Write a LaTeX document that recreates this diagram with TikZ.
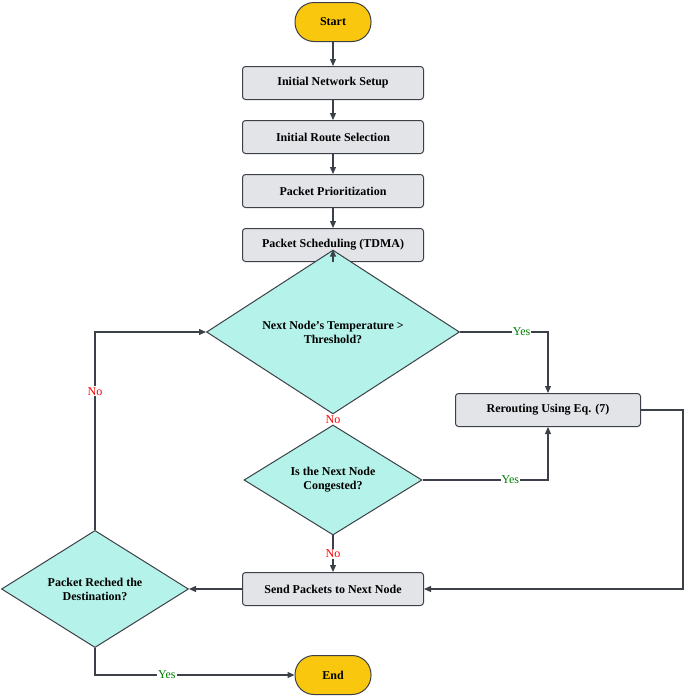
\documentclass[tikz,border=0pt]{standalone}
\usepackage{fontspec}
\setmainfont{Liberation Serif}
\usetikzlibrary{shapes.geometric,arrows.meta}
\definecolor{yel}{HTML}{F9C80E}
\definecolor{gbox}{HTML}{E3E4E8}
\definecolor{cyan1}{HTML}{B5F3EA}
\definecolor{edge}{HTML}{3C4048}
\begin{document}
\begin{tikzpicture}[x=1pt,y=-1pt,
  box/.style={draw=edge,line width=1pt,fill=gbox,rounded corners=3pt,minimum width=181pt,minimum height=33pt,font=\bfseries\fontsize{12}{14}\selectfont},
  term/.style={draw=edge,line width=1pt,fill=yel,rounded corners=19pt,minimum width=76pt,minimum height=39pt,font=\bfseries\fontsize{12}{14}\selectfont},
  dia/.style={draw=edge,line width=1pt,fill=cyan1,diamond,inner sep=0pt,align=center,font=\bfseries\fontsize{12}{14}\selectfont},
  ar/.style={draw=edge,line width=1.2pt,-{Triangle[length=7pt,width=6pt]}},
  yes/.style={fill=white,inner sep=1pt,text=green!50!black,font=\fontsize{12}{14}\selectfont},
  no/.style={fill=white,inner sep=1pt,text=red,font=\fontsize{12}{14}\selectfont}]
\useasboundingbox (0,0) rectangle (685,699);
\node[term] (s) at (333,22) {Start};
\node[box] (b1) at (333,83) {Initial Network Setup};
\node[box] (b2) at (333,137) {Initial Route Selection};
\node[box] (b3) at (333,191) {Packet Prioritization};
\node[box] (b4) at (333,245) {Packet Scheduling (TDMA)};
\node[dia,minimum width=253pt,minimum height=95pt] (d1) at (333,332) {Next Node's Temperature >\\Threshold?};
\node[box,minimum width=185pt] (r) at (548,410) {Rerouting Using Eq. (7)};
\node[dia,minimum width=178pt,minimum height=86pt] (d2) at (333,480) {Is the Next Node\\Congested?};
\node[box] (sp) at (333,589) {Send Packets to Next Node};
\node[dia,minimum width=187pt,minimum height=86pt] (d3) at (95,589) {Packet Reched the\\Destination?};
\node[term] (e) at (333,675) {End};
\draw[ar] (s) -- (b1);
\draw[ar] (b1) -- (b2);
\draw[ar] (b2) -- (b3);
\draw[ar] (b3) -- (b4);
\draw[ar] (b4) -- (d1);
\draw[ar] (d1.east) -| node[yes,pos=0.35]{Yes} (r.north);
\draw[ar] (d1.south) -- node[no,pos=0.5]{No} (d2.north);
\draw[ar] (d2.east) -| node[yes,pos=0.35]{Yes} (r.south);
\draw[ar] (d2.south) -- node[no,pos=0.5]{No} (sp.north);
\draw[ar] (r.east) -- (683,410) |- (sp.east);
\draw[ar] (sp.west) -- (d3.east);
\draw[ar] (d3.north) |- node[no,pos=0.35]{No} (d1.west);
\draw[ar] (d3.south) |- node[yes,pos=0.68]{Yes} (e.west);
\end{tikzpicture}
\end{document}
